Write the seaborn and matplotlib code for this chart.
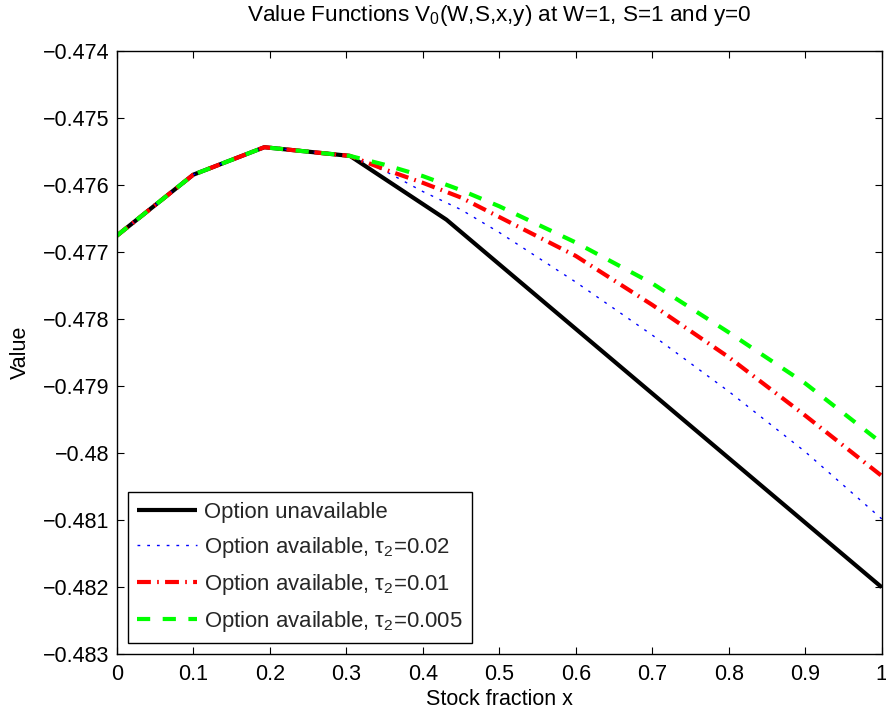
import matplotlib
matplotlib.use("Agg")
import matplotlib.pyplot as plt
import seaborn as sns
import numpy as np
from matplotlib.ticker import FuncFormatter

# ---- data ----
x_black = [0.0, 0.1, 0.193, 0.305, 0.431, 1.0]
y_black = [-0.47676, -0.47585, -0.47544, -0.47557, -0.47652, -0.48200]

x_opt = [0.0, 0.1, 0.193, 0.305, 0.35, 0.4, 0.45, 0.5, 0.6, 0.7, 0.8, 0.9, 1.0]
y_tau002 = [-0.47676, -0.47585, -0.47544, -0.47557, -0.47579, -0.47610, -0.47637,
            -0.47671, -0.47745, -0.47824, -0.47908, -0.47998, -0.48098]
y_tau001 = [-0.47676, -0.47585, -0.47544, -0.47557, -0.47577, -0.47597, -0.47619,
            -0.47648, -0.47706, -0.47779, -0.47857, -0.47944, -0.48034]
y_tau0005 = [-0.47676, -0.47585, -0.47544, -0.47557, -0.47570, -0.47587, -0.47608,
             -0.47632, -0.47686, -0.47747, -0.47820, -0.47896, -0.47985]

labels = ["Option unavailable",
          "Option available, τ$_2$=0.02",
          "Option available, τ$_2$=0.01",
          "Option available, τ$_2$=0.005"]

x_ticks = [0, 0.1, 0.2, 0.3, 0.4, 0.5, 0.6, 0.7, 0.8, 0.9, 1.0]
y_ticks = [-0.483, -0.482, -0.481, -0.48, -0.479, -0.478, -0.477, -0.476, -0.475, -0.474]

# ---- style ----
sns.set_theme(style="white")
plt.rcParams["font.family"] = ["Liberation Sans", "DejaVu Sans"]
plt.rcParams["mathtext.fontset"] = "custom"
plt.rcParams["mathtext.rm"] = "Liberation Sans"
plt.rcParams["mathtext.it"] = "Liberation Sans"
plt.rcParams["mathtext.default"] = "regular"
plt.rcParams["lines.scale_dashes"] = False
plt.rcParams["axes.unicode_minus"] = True

FS = 15.5

fig = plt.figure(figsize=(8.87, 7.13), dpi=100)
ax = fig.add_axes([0.1316, 0.0823, 0.994 - 0.1316, 0.929 - 0.0823])

sns.lineplot(x=x_black, y=y_black, ax=ax, color="black", linewidth=3.0,
             label=labels[0], sort=False)
sns.lineplot(x=x_opt, y=y_tau002, ax=ax, color=(0, 0, 1), linewidth=1.0,
             linestyle=(0, (2.0, 5.0)), label=labels[1], sort=False)
sns.lineplot(x=x_opt, y=y_tau001, ax=ax, color=(1, 0, 0), linewidth=3.0,
             linestyle=(0, (10.0, 4.5, 1.2, 4.5)), label=labels[2], sort=False)
sns.lineplot(x=x_opt, y=y_tau0005, ax=ax, color=(0, 1, 0), linewidth=3.0,
             linestyle=(0, (9.5, 9.0)), label=labels[3], sort=False)

for ln in ax.get_lines():
    ln.set_dash_capstyle("butt")
    ln.set_solid_capstyle("butt")

ax.set_xlim(0, 1)
ax.set_ylim(-0.483, -0.474)
ax.set_xticks(x_ticks)
ax.set_yticks(y_ticks)
fmt = FuncFormatter(lambda v, p: ("%g" % round(v, 6)).replace("-", "\u2212"))
ax.xaxis.set_major_formatter(fmt)
ax.yaxis.set_major_formatter(fmt)

ax.tick_params(axis="both", which="major", direction="in", length=5, width=0.8,
               labelsize=FS, colors="black", top=True, right=True,
               bottom=True, left=True)
ax.tick_params(axis="x", pad=7)
ax.tick_params(axis="y", pad=5)

for sp in ax.spines.values():
    sp.set_visible(True)
    sp.set_color("black")
    sp.set_linewidth(1.0)

ax.set_xlabel("Stock fraction x", fontsize=FS, color="black", labelpad=3)
ax.set_ylabel("Value", fontsize=FS, color="black", labelpad=9)
ax.set_title("Value Functions V$_0$(W,S,x,y) at W=1, S=1 and y=0",
             fontsize=16.2, color="black", pad=21)

leg = ax.legend(loc="lower left", bbox_to_anchor=(0.0144, 0.018),
                borderaxespad=0, fontsize=15.9, frameon=True, fancybox=False,
                edgecolor="black", framealpha=1, handlelength=2.7,
                handletextpad=0.35, borderpad=0.42, labelspacing=0.55)
leg.get_frame().set_linewidth(1.0)

fig.savefig("out.png", dpi=100, facecolor="white")
